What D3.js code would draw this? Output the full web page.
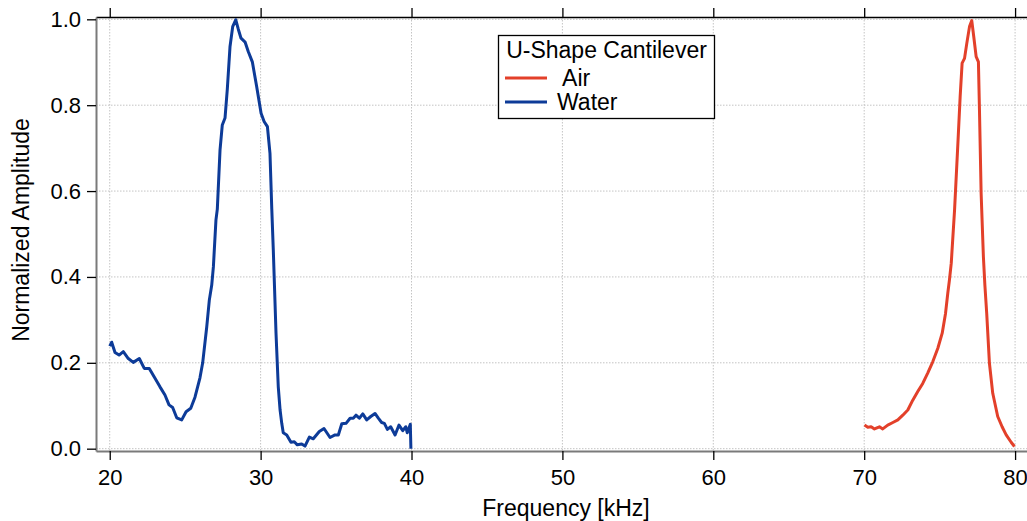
<!DOCTYPE html>
<html><head><meta charset="utf-8">
<script src="https://cdn.jsdelivr.net/npm/d3@7"></script>
<style>body{margin:0;background:#fff}svg{display:block;font-family:"Liberation Sans",Arial,sans-serif}</style>
</head><body><svg id="c" width="1027" height="521"></svg>
<script>
const waterFreq = [20.0,20.13,20.35,20.62,20.9,21.23,21.56,21.96,22.29,22.62,23.0,23.33,23.66,23.93,24.17,24.44,24.77,25.06,25.37,25.65,25.98,26.16,26.43,26.6,26.76,26.87,27.04,27.13,27.31,27.46,27.64,27.79,27.97,28.15,28.35,28.52,28.7,28.97,29.18,29.45,29.74,30.03,30.23,30.45,30.62,30.74,30.84,31.02,31.17,31.29,31.4,31.5,31.73,32.01,32.23,32.43,32.72,32.94,33.23,33.49,33.89,34.2,34.6,34.93,35.15,35.38,35.66,35.93,36.14,36.32,36.54,36.77,37.03,37.3,37.58,37.8,38.02,38.2,38.4,38.62,38.91,39.17,39.42,39.62,39.72,39.92,39.96];
const waterAmp = [0.239,0.248,0.224,0.218,0.226,0.21,0.201,0.21,0.187,0.187,0.164,0.144,0.125,0.102,0.096,0.072,0.067,0.086,0.094,0.12,0.165,0.2,0.284,0.346,0.381,0.424,0.533,0.558,0.696,0.754,0.77,0.836,0.936,0.983,0.999,0.977,0.956,0.947,0.925,0.901,0.843,0.781,0.762,0.75,0.688,0.558,0.463,0.269,0.144,0.09,0.059,0.037,0.032,0.015,0.016,0.009,0.011,0.006,0.027,0.023,0.04,0.047,0.026,0.032,0.032,0.058,0.059,0.071,0.071,0.078,0.071,0.081,0.067,0.075,0.082,0.071,0.061,0.059,0.045,0.051,0.032,0.055,0.042,0.051,0.037,0.057,0.0];
const airFreq = [70.02,70.24,70.46,70.68,71.01,71.23,71.56,71.9,72.23,72.56,72.89,73.22,73.55,73.88,74.21,74.55,74.88,75.17,75.39,75.54,75.65,75.77,75.99,76.21,76.36,76.49,76.65,76.8,76.98,77.13,77.26,77.42,77.57,77.64,77.75,77.9,78.0,78.12,78.3,78.52,78.85,79.14,79.41,79.74,79.96];
const airAmp = [0.055,0.05,0.051,0.046,0.051,0.046,0.055,0.061,0.067,0.078,0.09,0.113,0.133,0.152,0.176,0.203,0.234,0.269,0.315,0.362,0.393,0.432,0.556,0.711,0.82,0.898,0.909,0.944,0.983,0.997,0.96,0.913,0.901,0.789,0.595,0.447,0.38,0.315,0.199,0.129,0.075,0.051,0.032,0.015,0.005];
const xTicks = [20,30,40,50,60,70,80];
const yTicks = [0.0,0.2,0.4,0.6,0.8,1.0];
const seriesNames = [" Air","Water"];
const seriesColors = ["#e3402a","#0d3b98"];
const legendTitle = "U-Shape Cantilever";

const svg = d3.select("#c");
const L=96,R=1027,T=17,B=451;
const x = d3.scaleLinear().domain([19.09,80.79]).range([L,R]);
const y = d3.scaleLinear().domain([-0.0054,1.0054]).range([B,T]);
const FF = "Liberation Sans, Arial, sans-serif";

// grid
svg.append("g").selectAll("line").data(xTicks).join("line")
  .attr("x1",d=>x(d)).attr("x2",d=>x(d)).attr("y1",T).attr("y2",B)
  .attr("stroke","#c4c4c4").attr("stroke-width",1).attr("stroke-dasharray","1.5,1.5");
svg.append("g").selectAll("line").data(yTicks).join("line")
  .attr("x1",L).attr("x2",R).attr("y1",d=>y(d)).attr("y2",d=>y(d))
  .attr("stroke","#c4c4c4").attr("stroke-width",1).attr("stroke-dasharray","1.5,1.5");

// axes
const xb = svg.append("g").attr("transform",`translate(0,${B})`)
  .call(d3.axisBottom(x).tickValues(xTicks).tickFormat(d3.format("d")).tickSize(9).tickPadding(9).tickSizeOuter(0));
xb.select(".domain").attr("stroke","#7a7a7a").attr("stroke-width",2);
xb.selectAll(".tick line").attr("stroke","#000").attr("stroke-width",1.3);
xb.selectAll("text").attr("font-size",22).attr("fill","#000").style("font-family",FF);

const xt = svg.append("g").attr("transform",`translate(0,${T})`)
  .call(d3.axisTop(x).tickValues(xTicks).tickFormat("").tickSize(9).tickSizeOuter(0));
xt.select(".domain").attr("stroke","#000").attr("stroke-width",1.6);
xt.selectAll(".tick line").attr("stroke","#000").attr("stroke-width",1.3);

const yl = svg.append("g").attr("transform",`translate(${L},0)`)
  .call(d3.axisLeft(y).tickValues(yTicks).tickFormat(d3.format(".1f")).tickSize(9).tickPadding(6).tickSizeOuter(0));
yl.select(".domain").attr("stroke","#7a7a7a").attr("stroke-width",2);
yl.selectAll(".tick line").attr("stroke","#000").attr("stroke-width",1.3);
yl.selectAll("text").attr("font-size",22).attr("fill","#000").style("font-family",FF);

// lines
const line = d3.line().x(d=>x(d[0])).y(d=>y(d[1]));
const waterData = waterFreq.map((f,i)=>[f,waterAmp[i]]);
const airData = airFreq.map((f,i)=>[f,airAmp[i]]);
svg.append("path").datum(airData).attr("d",line).attr("fill","none")
  .attr("stroke",seriesColors[0]).attr("stroke-width",3).attr("stroke-linejoin","round");
svg.append("path").datum(waterData).attr("d",line).attr("fill","none")
  .attr("stroke",seriesColors[1]).attr("stroke-width",3).attr("stroke-linejoin","round");

// titles
svg.append("text").attr("x",566).attr("y",516).attr("text-anchor","middle")
  .attr("font-size",23).text("Frequency [kHz]");
svg.append("text").attr("transform",`translate(29,${(T+B)/2-4}) rotate(-90)`).attr("text-anchor","middle")
  .attr("font-size",23).text("Normalized Amplitude");

// legend
const lg = svg.append("g");
lg.append("rect").attr("x",498.5).attr("y",35.5).attr("width",216).attr("height",83)
  .attr("fill","#fff").attr("stroke","#000").attr("stroke-width",1.3);
lg.append("text").attr("x",606.5).attr("y",58).attr("text-anchor","middle").attr("font-size",23).text(legendTitle);
seriesNames.forEach((n,i)=>{
  const yy = 78 + i*24;
  lg.append("line").attr("x1",505).attr("x2",547).attr("y1",yy).attr("y2",yy)
    .attr("stroke",seriesColors[i]).attr("stroke-width",3);
  lg.append("text").attr("x",557).attr("y",yy+8).attr("font-size",23).attr("xml:space","preserve")
    .style("white-space","pre").text(n);
});
</script></body></html>
